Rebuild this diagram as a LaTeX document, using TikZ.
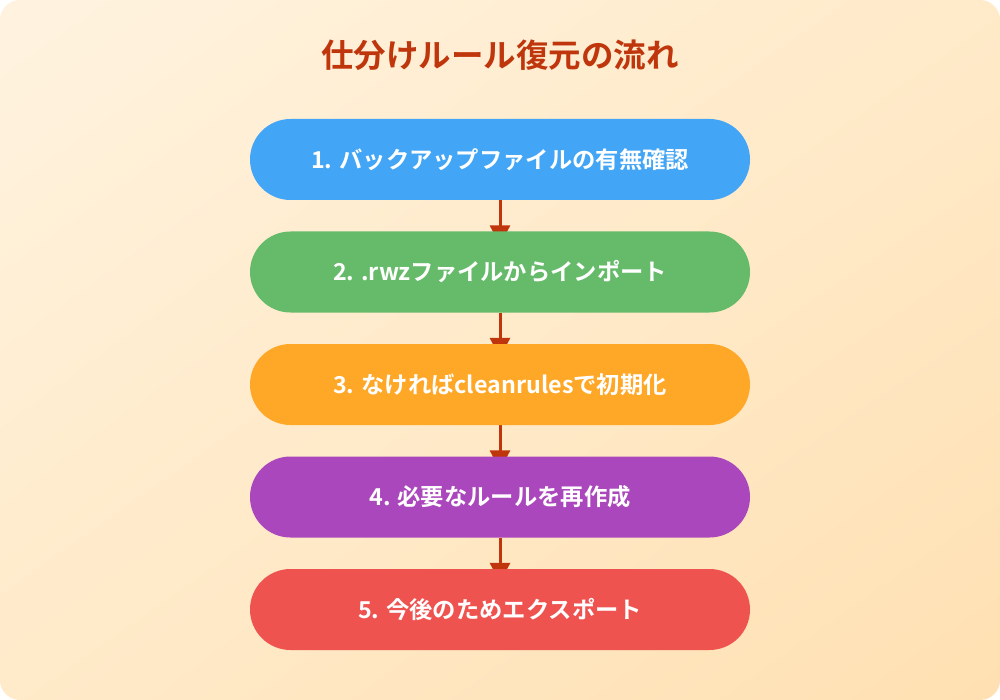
\documentclass[tikz,border=0pt]{standalone}
\usepackage{fontspec}
\newfontfamily\jpb{Noto Sans CJK JP Bold}
\usetikzlibrary{arrows.meta,shadings}
\definecolor{bgA}{HTML}{FFF3E0}
\definecolor{bgB}{HTML}{FFE0B2}
\definecolor{bgM}{HTML}{FFEAC9}
\definecolor{ttl}{HTML}{BF360C}
\definecolor{cA}{HTML}{42A5F5}
\definecolor{cB}{HTML}{66BB6A}
\definecolor{cC}{HTML}{FFA726}
\definecolor{cD}{HTML}{AB47BC}
\definecolor{cE}{HTML}{EF5350}
\pgfdeclarelayer{arrowlayer}
\pgfsetlayers{arrowlayer,main}
\tikzset{
  stepbox/.style={rounded corners=40.5pt, minimum width=500pt, minimum height=81pt,
    inner sep=0pt, text=white, font=\jpb\fontsize{23.3pt}{28pt}\selectfont},
  flow/.style={draw=ttl, line width=3pt, -{Triangle[width=20pt,length=20pt]}, shorten >=-14pt}
}
\begin{document}
\begin{tikzpicture}[x=1pt,y=-1pt]
\begin{pgfonlayer}{arrowlayer}
\useasboundingbox (0,0) rectangle (1000,700);
\begin{scope}
\clip[rounded corners=20pt] (0,0) rectangle (1000,700);
\shade[upper left=bgA, lower right=bgB, upper right=bgM, lower left=bgM] (0,0) rectangle (1000,700);
\end{scope}
\end{pgfonlayer}
\node[text=ttl, font=\jpb\fontsize{32.5pt}{38pt}\selectfont] (title) at (500,55) {仕分けルール復元の流れ};
\node[stepbox, fill=cA] (b1) at (500,159.5) {1. バックアップファイルの有無確認};
\node[stepbox, fill=cB] (b2) at (500,272) {2. .rwzファイルからインポート};
\node[stepbox, fill=cC] (b3) at (500,384.5) {3. なければcleanrulesで初期化};
\node[stepbox, fill=cD] (b4) at (500,497) {4. 必要なルールを再作成};
\node[stepbox, fill=cE] (b5) at (500,609.5) {5. 今後のためエクスポート};
\begin{pgfonlayer}{arrowlayer}
\draw[flow] (b1.south) -- (b2.north);
\draw[flow] (b2.south) -- (b3.north);
\draw[flow] (b3.south) -- (b4.north);
\draw[flow] (b4.south) -- (b5.north);
\end{pgfonlayer}
\end{tikzpicture}
\end{document}
